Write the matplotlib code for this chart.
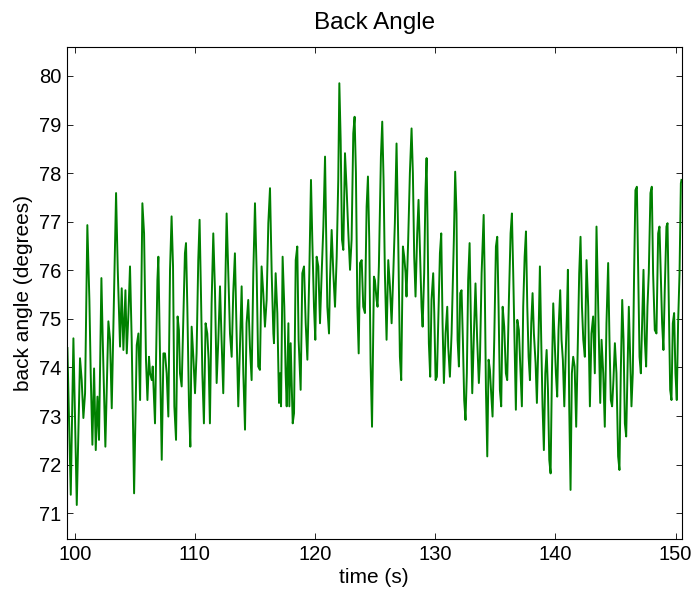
import matplotlib
matplotlib.use("Agg")
import matplotlib.pyplot as plt

plt.rcParams['font.family'] = ['Liberation Sans', 'DejaVu Sans']

# back angle trace (time in s, angle in degrees)
time_s = [
    99.39, 99.67, 99.89, 100.17, 100.44, 100.58, 100.72, 100.86, 101.05, 101.22,
    101.33, 101.47, 101.61, 101.75, 101.89, 102.02, 102.22, 102.33, 102.55, 102.80,
    102.94, 103.08, 103.44, 103.58, 103.77, 103.91, 104.05, 104.22, 104.33, 104.47,
    104.60, 104.74, 104.94, 105.16, 105.30, 105.44, 105.63, 105.77, 105.93, 106.05,
    106.18, 106.27, 106.41, 106.49, 106.68, 106.88, 106.96, 107.10, 107.24, 107.38,
    107.51, 107.65, 107.79, 107.93, 108.06, 108.18, 108.29, 108.43, 108.56, 108.67,
    108.76, 108.90, 109.04, 109.17, 109.26, 109.37, 109.51, 109.62, 109.73, 109.87,
    110.01, 110.14, 110.28, 110.39, 110.50, 110.62, 110.75, 110.89, 111.03, 111.14,
    111.25, 111.39, 111.53, 111.67, 111.81, 111.95, 112.09, 112.22, 112.36, 112.50,
    112.64, 112.78, 112.92, 113.06, 113.19, 113.33, 113.47, 113.61, 113.75, 113.89,
    114.03, 114.17, 114.30, 114.44, 114.58, 114.72, 114.86, 115.00, 115.14, 115.27,
    115.41, 115.55, 115.69, 115.83, 115.97, 116.11,
    116.25, 116.39, 116.53, 116.58, 116.72, 116.86, 117.00, 117.08, 117.17, 117.30,
    117.44, 117.55, 117.64, 117.78, 117.86, 117.97, 118.14, 118.25, 118.39, 118.52,
    118.63, 118.80, 118.94, 119.08, 119.22, 119.36, 119.52, 119.66, 119.77, 119.91,
    120.02, 120.13, 120.27, 120.41, 120.55, 120.69, 120.83, 120.91, 121.02, 121.16,
    121.24, 121.38, 121.52, 121.66, 121.80, 121.93, 122.02, 122.13, 122.24, 122.35,
    122.49, 122.63, 122.77, 122.91, 123.04, 123.18, 123.29, 123.40, 123.52, 123.63,
    123.74, 123.88, 124.01, 124.15, 124.29, 124.40, 124.51, 124.62, 124.74, 124.90,
    124.98, 125.12, 125.20, 125.31, 125.48, 125.59, 125.70, 125.81, 125.95, 126.09,
    126.23, 126.37, 126.51, 126.64, 126.78, 126.92, 127.06, 127.17, 127.31, 127.42,
    127.53, 127.61, 127.75, 127.89, 128.03, 128.14, 128.25, 128.36, 128.50, 128.61,
    128.72, 128.86, 128.95, 129.08, 129.19, 129.28, 129.36, 129.47, 129.58, 129.69,
    129.83, 129.92, 130.03, 130.14, 130.25, 130.39, 130.50, 130.61, 130.72, 130.86,
    131.00, 131.08, 131.22, 131.36, 131.55, 131.66, 131.77, 131.86, 131.97, 132.08,
    132.19, 132.30, 132.41, 132.52, 132.63, 132.74, 132.86, 132.97, 133.08, 133.22,
    133.35, 133.49, 133.63,
    133.72, 133.86, 134.03, 134.11, 134.22, 134.33, 134.44, 134.55, 134.64, 134.77,
    134.91, 135.05, 135.16, 135.27, 135.38, 135.49, 135.61, 135.74, 135.88, 135.99,
    136.13, 136.27, 136.38, 136.49, 136.60, 136.71, 136.83, 136.96, 137.10, 137.21,
    137.32, 137.44, 137.55, 137.66, 137.77, 137.88, 137.99, 138.10, 138.21, 138.35,
    138.46, 138.60, 138.71, 138.82, 138.93, 139.04, 139.16, 139.27, 139.38, 139.49,
    139.60, 139.71, 139.82, 139.93, 140.04, 140.15, 140.26, 140.40, 140.51, 140.62,
    140.74, 140.85, 140.96, 141.04, 141.15, 141.26, 141.37, 141.48, 141.60, 141.73,
    141.87, 141.98, 142.09, 142.21, 142.32,
    142.45, 142.59, 142.73, 142.87, 143.00, 143.14, 143.28, 143.42, 143.50, 143.61,
    143.73, 143.84, 143.98, 144.11, 144.25, 144.39, 144.50, 144.61, 144.72, 144.83,
    144.95, 145.08, 145.22, 145.33, 145.44, 145.56, 145.67, 145.78, 145.89, 146.00,
    146.11, 146.22, 146.33, 146.44, 146.55, 146.66, 146.78, 146.89, 147.00, 147.11,
    147.22, 147.33, 147.44, 147.55, 147.66, 147.77, 147.91, 148.02, 148.13, 148.27,
    148.41, 148.55, 148.66, 148.77, 148.88, 148.99, 149.10, 149.24, 149.33, 149.44,
    149.55, 149.66, 149.77, 149.88, 149.99, 150.10, 150.21, 150.33, 150.44, 150.49,
]
angle_deg = [
    74.40, 71.38, 74.60, 71.17, 74.19, 73.74, 72.96, 73.47, 76.93, 75.39,
    73.88, 72.41, 73.98, 72.30, 73.40, 72.51, 75.84, 74.57, 72.37, 74.95,
    74.57, 73.16, 77.59, 76.01, 74.43, 75.63, 74.36, 75.59, 74.29, 75.12,
    76.08, 74.57, 71.41, 74.46, 74.70, 73.33, 77.38, 76.76, 74.16, 73.33,
    74.22, 73.88, 73.74, 74.02, 72.85, 75.80, 76.28, 74.22, 72.10, 74.29,
    74.29, 73.88, 72.99, 76.01, 77.11, 76.08, 73.20, 72.51, 75.05, 74.77,
    73.88, 73.61, 75.05, 76.35, 76.56, 75.25, 73.20, 72.37, 74.84, 74.22,
    73.47, 74.29, 76.21, 77.04, 75.59, 73.88, 72.85, 74.91, 74.70, 74.16,
    72.85, 75.32, 76.76, 75.59, 73.68, 74.57, 75.67, 74.57, 73.47, 75.25,
    77.17, 75.94, 74.70, 74.22, 75.53, 76.35, 74.70, 73.20, 74.43, 75.67,
    73.88, 72.72, 74.91, 75.39, 74.43, 73.74, 75.94, 77.38, 75.94, 74.02,
    73.95, 76.08, 75.53, 74.84, 75.39, 76.97,
    77.69, 75.94, 74.70, 74.50, 75.94, 75.12, 73.27, 73.88, 73.20, 76.28,
    75.25, 73.88, 73.20, 74.91, 73.20, 74.50, 72.85, 73.06, 76.21, 76.49,
    74.57, 73.54, 75.94, 76.08, 74.91, 74.16, 75.94, 77.86, 76.63, 75.25,
    74.57, 76.28, 76.08, 74.91, 75.94, 76.90, 78.34, 76.97, 75.25, 74.70,
    75.80, 76.83, 75.94, 75.25, 76.28, 77.86, 79.85, 78.68, 76.63, 76.42,
    78.41, 77.65, 76.76, 76.01, 76.63, 78.82, 79.16, 78.00, 75.25, 74.29,
    76.15, 76.21, 75.25, 75.12, 77.31, 77.93, 76.63, 74.09, 72.78, 75.87,
    75.80, 75.39, 75.25, 76.08, 78.34, 79.06, 77.86, 75.94, 74.57, 76.21,
    75.67, 74.91, 75.94, 76.97, 78.61, 76.63, 74.22, 73.74, 76.49, 76.28,
    75.94, 75.46, 76.63, 78.00, 78.92, 78.00, 76.28, 75.46, 76.76, 77.45,
    76.49, 75.25, 74.84, 75.94, 77.65, 78.31, 76.97, 74.50, 73.81, 75.39,
    75.94, 75.12, 73.74, 73.81, 74.91, 76.35, 76.76, 74.91, 73.68, 74.70,
    75.25, 74.43, 73.81, 74.70, 76.63, 78.03, 77.17, 74.57, 74.02, 75.53,
    75.59, 74.57, 73.33, 72.92, 73.88, 75.80, 76.56, 74.91, 73.47, 74.70,
    75.73, 74.57, 73.68,
    74.16, 75.94, 77.14, 75.94, 73.54, 72.17, 74.16, 73.95, 73.54, 72.99,
    74.57, 76.49, 76.69, 75.25, 73.54, 73.20, 75.25, 74.84, 73.88, 73.74,
    75.39, 76.76, 77.17, 75.94, 74.57, 73.13, 74.98, 74.77, 73.88, 73.20,
    75.25, 76.28, 76.80, 75.25, 74.22, 73.74, 74.91, 75.53, 74.70, 74.09,
    73.27, 74.70, 76.08, 74.57, 73.20, 72.30, 73.88, 74.36, 73.54, 72.10,
    71.82, 73.88, 75.32, 74.57, 73.88, 73.40, 74.77, 75.59, 74.57, 74.16,
    73.20, 74.22, 75.12, 76.01, 73.20, 71.48, 73.88, 74.22, 74.02, 72.78,
    74.57, 75.94, 76.69, 75.25, 74.57,
    74.22, 76.21, 75.25, 73.20, 74.70, 75.05, 73.88, 76.90, 75.94, 74.70,
    73.27, 74.57, 73.88, 72.78, 74.91, 76.15, 74.57, 73.33, 73.20, 73.74,
    74.50, 73.88, 72.17, 71.89, 73.88, 75.39, 74.57, 72.85, 72.58, 73.88,
    75.25, 74.22, 73.20, 73.88, 75.94, 77.65, 77.72, 75.94, 74.22, 73.88,
    74.91, 76.01, 74.57, 74.02, 75.25, 75.94, 77.59, 77.72, 75.94, 74.77,
    74.70, 76.76, 76.90, 75.94, 74.91, 74.36, 75.59, 76.90, 76.97, 75.25,
    73.54, 73.33, 74.91, 75.12, 73.88, 73.33, 74.91, 75.94, 77.79, 77.86,
]

x_ticks = [100, 110, 120, 130, 140, 150]
y_ticks = [71, 72, 73, 74, 75, 76, 77, 78, 79, 80]

fig = plt.figure(figsize=(6.96, 5.94), dpi=100)
ax = fig.add_axes([0.0958, 0.0926, 0.884, 0.8286])
ax.plot(time_s, angle_deg, color='#008000', linewidth=1.4)

ax.set_xlim(99.33, 150.53)
ax.set_ylim(70.47, 80.60)
ax.set_xticks(x_ticks)
ax.set_yticks(y_ticks)
ax.tick_params(direction='in', length=4, width=0.6, top=True, right=True,
               labelsize=14.5, pad=4)
for s in ax.spines.values():
    s.set_linewidth(0.8)

ax.set_xlabel('time (s)', fontsize=15, labelpad=3)
ax.set_ylabel('back angle (degrees)', fontsize=15, labelpad=4)
ax.set_title('Back Angle', fontsize=17.5, pad=13)

fig.savefig('out.png', dpi=100)
